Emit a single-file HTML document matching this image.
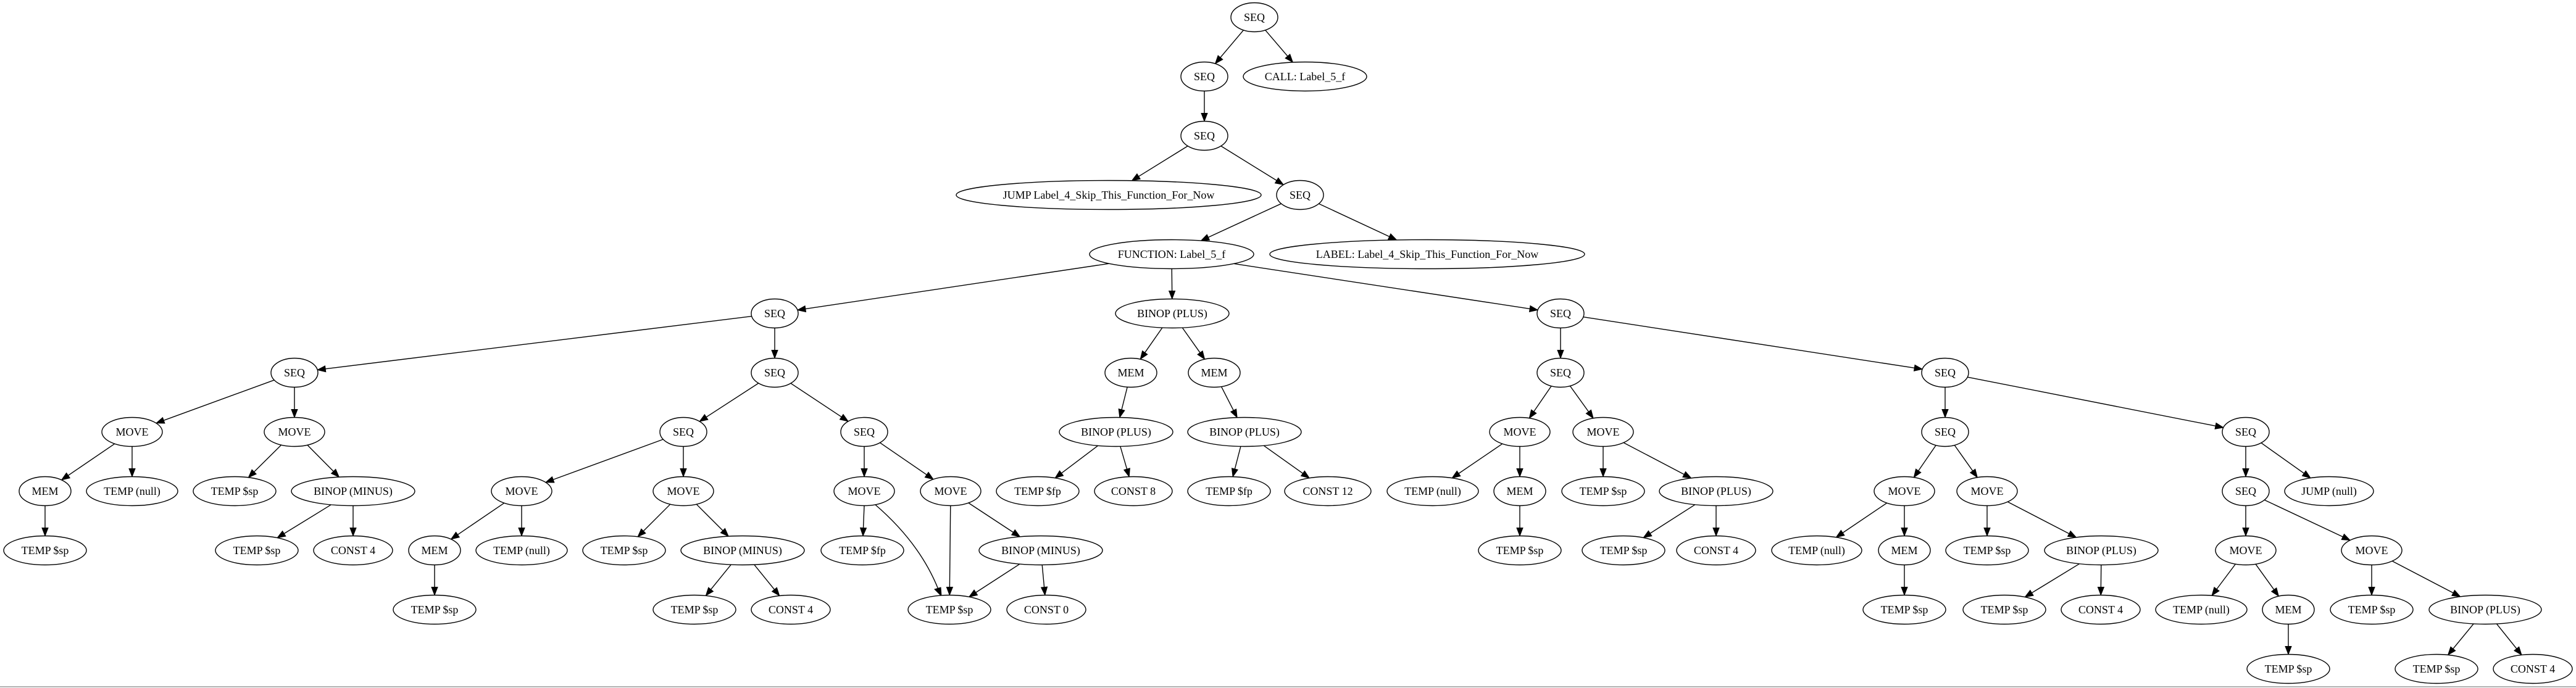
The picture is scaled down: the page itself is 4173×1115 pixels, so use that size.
<!DOCTYPE html>
<html><head><meta charset="utf-8">
<style>
html,body{margin:0;padding:0;background:#fff;}
svg{display:block;}
text{font-family:"Liberation Serif",serif;font-size:18px;}
</style></head>
<body>
<svg id="g" width="4173" height="1115" xmlns="http://www.w3.org/2000/svg">
<line x1="0" y1="1113" x2="4173" y2="1113" stroke="#999" stroke-width="1.5"/>
</svg>
<script>
const RY=23.5;
const N={
a:["SEQ",2032,28,38],
b:["SEQ",1951,124,38],
c:["CALL: Label_5_f",2114,124,100],
d:["SEQ",1951,220,38],
e:["JUMP Label_4_Skip_This_Function_For_Now",1796,316,247],
f:["SEQ",2106,316,38],
g:["FUNCTION: Label_5_f",1898,412,133],
h:["LABEL: Label_4_Skip_This_Function_For_Now",2312,412,255],
i:["SEQ",1255,508,38],
j:["BINOP (PLUS)",1899,508,92],
k:["SEQ",2528,508,38],
l1:["SEQ",477,604,38],
l2:["SEQ",1255,604,38],
m1:["MOVE",214,700,49],
m2:["MOVE",477,700,49],
m3:["SEQ",1107,700,38],
m4:["SEQ",1400,700,38],
n1:["MEM",73,796,42],
n2:["TEMP (null)",214,796,74],
n3:["TEMP $sp",380,796,67],
n4:["BINOP (MINUS)",572,796,100],
n5:["MOVE",845,796,49],
n6:["MOVE",1107,796,49],
n7:["MOVE",1400,796,49],
n8:["MOVE",1540,796,49],
o1:["TEMP $sp",73,892,67],
o2:["TEMP $sp",416,892,67],
o3:["CONST 4",572,892,64],
o4:["MEM",704,892,42],
o5:["TEMP (null)",845,892,74],
o6:["TEMP $sp",1011,892,67],
o7:["BINOP (MINUS)",1203,892,100],
o8:["TEMP $fp",1397,892,67],
o9:["BINOP (MINUS)",1686,892,100],
p1:["TEMP $sp",704,988,67],
p2:["TEMP $sp",1125,988,67],
p3:["CONST 4",1281,988,64],
p4:["TEMP $sp",1538,988,67],
p5:["CONST 0",1695,988,64],
q1:["MEM",1832,604,42],
q2:["MEM",1967,604,42],
q3:["BINOP (PLUS)",1808,700,92],
q4:["BINOP (PLUS)",2016,700,92],
q5:["TEMP $fp",1681,796,67],
q6:["CONST 8",1836,796,63],
q7:["TEMP $fp",1991,796,67],
q8:["CONST 12",2151,796,70],
r1:["SEQ",2528,604,38],
r2:["SEQ",3151,604,38],
s1:["MOVE",2462,700,49],
s2:["MOVE",2597,700,49],
s3:["SEQ",3151,700,38],
s4:["SEQ",3638,700,38],
t1:["TEMP (null)",2321,796,74],
t2:["MEM",2462,796,42],
t3:["TEMP $sp",2597,796,67],
t4:["BINOP (PLUS)",2780,796,92],
t5:["MOVE",3085,796,49],
t6:["MOVE",3219,796,49],
t7:["SEQ",3638,796,38],
t8:["JUMP (null)",3773,796,72],
u1:["TEMP $sp",2462,892,67],
u2:["TEMP $sp",2630,892,67],
u3:["CONST 4",2780,892,64],
u4:["TEMP (null)",2943,892,73],
u5:["MEM",3085,892,42],
u6:["TEMP $sp",3219,892,67],
u7:["BINOP (PLUS)",3404,892,92],
u8:["MOVE",3638,892,49],
u9:["MOVE",3842,892,49],
v1:["TEMP $sp",3085,988,67],
v2:["TEMP $sp",3247,988,67],
v3:["CONST 4",3403,988,64],
v4:["TEMP (null)",3566,988,74],
v5:["MEM",3707,988,42],
v6:["TEMP $sp",3842,988,67],
v7:["BINOP (PLUS)",4026,988,91],
w1:["TEMP $sp",3707,1084,67],
w2:["TEMP $sp",3947,1084,67],
w3:["CONST 4",4103,1084,64]
};
const E=[["a","b"],["a","c"],["b","d"],["d","e"],["d","f"],["f","g"],["f","h"],["g","i"],["g","j"],["g","k"],
["i","l1"],["i","l2"],["l1","m1"],["l1","m2"],["l2","m3"],["l2","m4"],["m1","n1"],["m1","n2"],["m2","n3"],["m2","n4"],
["m3","n5"],["m3","n6"],["m4","n7"],["m4","n8"],["n1","o1"],["n4","o2"],["n4","o3"],["n5","o4"],["n5","o5"],["n6","o6"],["n6","o7"],
["n7","o8"],["n8","p4"],["n8","o9"],["o4","p1"],["o7","p2"],["o7","p3"],["o9","p4"],["o9","p5"],
["j","q1"],["j","q2"],["q1","q3"],["q2","q4"],["q3","q5"],["q3","q6"],["q4","q7"],["q4","q8"],
["k","r1"],["k","r2"],["r1","s1"],["r1","s2"],["r2","s3"],["r2","s4"],["s1","t1"],["s1","t2"],["s2","t3"],["s2","t4"],
["s3","t5"],["s3","t6"],["s4","t7"],["s4","t8"],["t2","u1"],["t4","u2"],["t4","u3"],["t5","u4"],["t5","u5"],["t6","u6"],["t6","u7"],
["t7","u8"],["t7","u9"],["u5","v1"],["u7","v2"],["u7","v3"],["u8","v4"],["u8","v5"],["u9","v6"],["u9","v7"],
["v5","w1"],["v7","w2"],["v7","w3"]];
const svg=document.getElementById("g");let s="";
function clip(n,dx,dy){const t=1/Math.sqrt((dx/n[3])**2+(dy/RY)**2);return [n[1]+dx*t,n[2]+dy*t];}
function arrow(x1,y1,x2,y2){const dx=x2-x1,dy=y2-y1,L=Math.hypot(dx,dy),ux=dx/L,uy=dy/L,al=13,aw=5;
const bx=x2-ux*al,by=y2-uy*al;
return `<line x1="${x1}" y1="${y1}" x2="${bx}" y2="${by}" stroke="#000" stroke-width="1.4"/><polygon points="${x2},${y2} ${bx-uy*aw},${by+ux*aw} ${bx+uy*aw},${by-ux*aw}" fill="#000" stroke="#000"/>`;}
E.forEach(([p,c])=>{const A=N[p],B=N[c];
if(p=="n7"){return;}
const dx=B[1]-A[1],dy=B[2]-A[2];const s1=clip(A,dx,dy),s2=clip(B,-dx,-dy);s+=arrow(s1[0],s1[1],s2[0],s2[1]);});
s+=`<path d="M1418,818 Q1490,880 1520,955" fill="none" stroke="#000" stroke-width="1.4"/>`;
s+=`<polygon points="1525,966 1514,955 1524,952" fill="#000" stroke="#000"/>`;
s+=arrow(1400,819.5,1398,868.5);
for(const k in N){const n=N[k];
s+=`<ellipse cx="${n[1]}" cy="${n[2]}" rx="${n[3]}" ry="${RY}" fill="#fff" stroke="#000" stroke-width="1.4"/>`;
s+=`<text x="${n[1]}" y="${n[2]+6}" text-anchor="middle">${n[0]}</text>`;}
svg.insertAdjacentHTML("beforeend",s);
</script>
</body></html>
